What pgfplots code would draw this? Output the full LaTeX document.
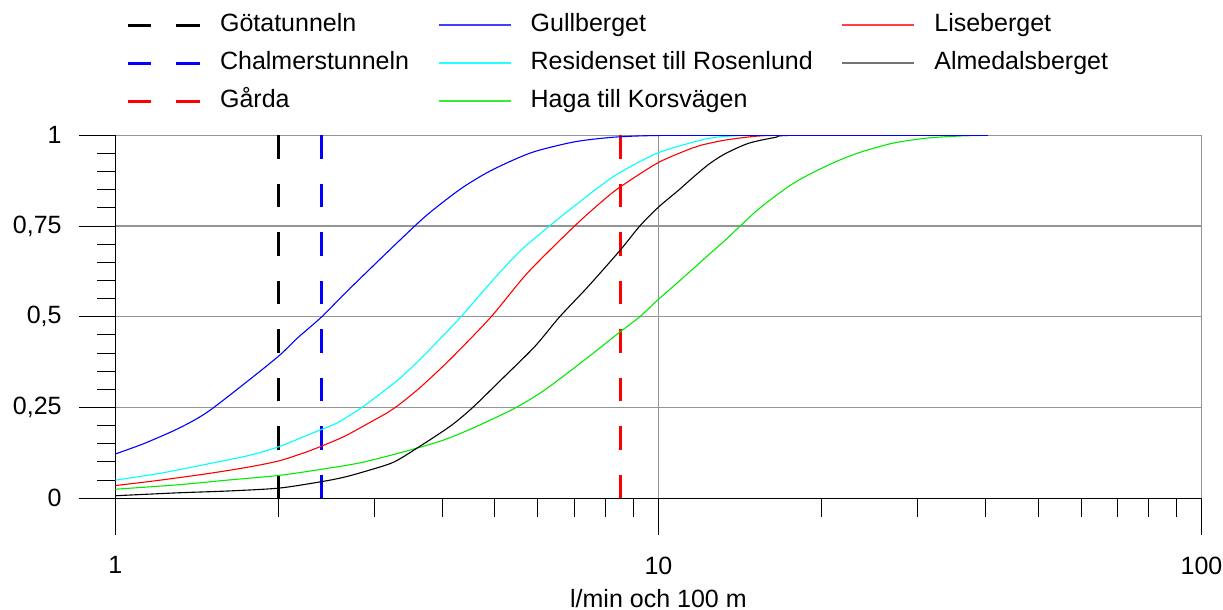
\documentclass[border=0pt]{standalone}
\usepackage{fontspec}
\setmainfont{Liberation Sans}
\usepackage{pgfplots}
\pgfplotsset{compat=1.18}
\usepackage{pgfplotstable}

\definecolor{bl}{RGB}{0,0,255}
\definecolor{cy}{RGB}{0,255,255}
\definecolor{gr}{RGB}{0,235,0}
\definecolor{rd}{RGB}{255,0,0}

% Cumulative distributions of inflow (l/min per 100 m)
\pgfplotstableread{
x y
1 0.122
1.126 0.150
1.28 0.186
1.393 0.214
1.496 0.243
1.723 0.314
2 0.392
2.163 0.441
2.4 0.500
2.637 0.562
3.04 0.652
3.357 0.714
3.759 0.782
4.33 0.853
4.92 0.903
5.83 0.952
7.01 0.982
8.31 0.995
10 0.9995
14 1
40.4 1
}\gullberget

\pgfplotstableread{
x y
1 0.050
1.21 0.069
1.496 0.096
1.774 0.119
2 0.142
2.224 0.170
2.4 0.190
2.564 0.208
2.83 0.248
3.126 0.296
3.357 0.333
3.653 0.385
3.978 0.442
4.33 0.500
4.99 0.606
5.59 0.684
6.3 0.750
7.11 0.813
7.86 0.863
8.55 0.900
10 0.952
12 0.987
13.3 0.997
16 1
40.4 1
}\residenset

\pgfplotstableread{
x y
1 0.025
1.3 0.037
1.606 0.050
2 0.063
2.4 0.080
2.83 0.098
3.357 0.126
3.978 0.158
4.58 0.195
5.47 0.250
6.17 0.298
7.11 0.367
7.86 0.418
8.51 0.459
9.24 0.500
10 0.548
11.19 0.612
12.4 0.672
13.3 0.712
14.05 0.746
15.3 0.797
17.1 0.852
18.4 0.882
20.9 0.923
23.4 0.952
26.96 0.978
31.1 0.992
35.8 0.998
40.4 1
}\haga

\pgfplotstableread{
x y
1 0.035
1.21 0.050
1.496 0.069
1.774 0.087
2 0.103
2.224 0.125
2.4 0.144
2.637 0.170
2.871 0.200
3.17 0.236
3.357 0.262
3.653 0.307
4.15 0.385
4.92 0.500
5.75 0.622
7.01 0.750
7.86 0.817
8.51 0.858
10 0.925
11.5 0.964
12 0.973
13.3 0.987
15.3 0.998
18 1
40.4 1
}\liseberget

\pgfplotstableread{
x y
1 0.007
1.3 0.015
1.606 0.020
2 0.028
2.4 0.046
2.637 0.058
2.913 0.076
3.26 0.100
3.653 0.145
4.15 0.200
4.55 0.250
5.13 0.326
5.92 0.418
6.58 0.500
7.42 0.583
8.51 0.684
9.24 0.750
10 0.802
10.9 0.849
11.5 0.880
12.4 0.921
13.3 0.950
14.66 0.978
16.4 0.994
18 1
40.4 1
}\almedal

\pgfplotsset{
  tunnelline/.style={line width=1.3pt, dash pattern=on 11.65pt off 12.6pt},
  curveline/.style={line width=0.55pt, smooth, tension=0.45},
}

\begin{document}
\begin{tikzpicture}
\path[use as bounding box] (-57.65pt,-55.85pt) rectangle (553.85pt,249.15pt);
\begin{axis}[
  scale only axis,
  width=543.1pt, height=181.5pt,
  xmode=log, xmin=1, xmax=100, ymin=0, ymax=1,
  axis x line=bottom, axis y line=left,
  axis line style={-, black, line width=0.6pt},
  xtick={1,10,100}, xticklabels={1,10,100},
  minor xtick={2,3,4,5,6,7,8,9,20,30,40,50,60,70,80,90},
  ytick={0,0.25,0.5,0.75,1}, yticklabels={0,{0,25},{0,5},{0,75},1},
  minor ytick={0.05,0.1,0.15,0.2,0.3,0.35,0.4,0.45,0.55,0.6,0.65,0.7,0.8,0.85,0.9,0.95},
  tick align=outside,
  major tick length=18.35pt, minor tick length=9.15pt,
  tick style={black, line width=0.5pt},
  grid=major,
  major grid style={black!42, line width=0.6pt},
  font=\fontsize{12.5}{15}\selectfont,
  yticklabel style={anchor=east, xshift=-5pt},
  xticklabel style={yshift=-7.3pt},
  xlabel={l/min och 100 m},
  xlabel style={at={(rel axis cs:0.5,0)}, anchor=base, yshift=-54.6pt},
  legend columns=3,
  legend cell align=left,
  legend image code/.code={\draw[#1] (0pt,0pt) -- (36pt,0pt);},
  legend style={draw=none, fill=none, inner sep=0pt, outer sep=0pt,
    at={(rel axis cs:0,1)}, anchor=north west, xshift=5.7pt, yshift=60.85pt,
    nodes={inner sep=0pt, text height=9.2pt, text depth=2.6pt},
    row sep=7.2pt,
    /tikz/every odd column/.append style={column sep=9.4pt},
    /tikz/every even column/.append style={column sep=14.3pt},
    font=\fontsize{12.5}{15}\selectfont},
]
% measured flows in the tunnels
\addplot[tunnelline, black, forget plot] coordinates {(2,0) (2,1)};
\addplot[tunnelline, bl, forget plot] coordinates {(2.4,0) (2.4,1)};
\addplot[tunnelline, rd, forget plot] coordinates {(8.51,0) (8.51,1)};

% predicted distributions
\addplot[curveline, gr, forget plot] table {\haga};
\addplot[curveline, cy, forget plot] table {\residenset};
\addplot[curveline, rd, forget plot] table {\liseberget};
\addplot[curveline, black, forget plot] table {\almedal};
\addplot[curveline, bl, forget plot] table {\gullberget};

\addlegendimage{line width=1.3pt, dash pattern=on 11.65pt off 12.6pt, black}
\addlegendentry{Götatunneln}
\addlegendimage{line width=1.1pt, dash pattern=on 36pt off 1pt, bl!75}
\addlegendentry{Gullberget}
\addlegendimage{line width=1.1pt, dash pattern=on 36pt off 1pt, rd!75}
\addlegendentry{Liseberget}
\addlegendimage{line width=1.3pt, dash pattern=on 11.65pt off 12.6pt, bl}
\addlegendentry{Chalmerstunneln}
\addlegendimage{line width=1.1pt, dash pattern=on 36pt off 1pt, cy!85}
\addlegendentry{Residenset till Rosenlund}
\addlegendimage{line width=1.1pt, dash pattern=on 36pt off 1pt, black!55}
\addlegendentry{Almedalsberget}
\addlegendimage{line width=1.3pt, dash pattern=on 11.65pt off 12.6pt, rd}
\addlegendentry{Gårda}
\addlegendimage{line width=1.1pt, dash pattern=on 36pt off 1pt, gr!80}
\addlegendentry{Haga till Korsvägen}
\end{axis}
\end{tikzpicture}
\end{document}
